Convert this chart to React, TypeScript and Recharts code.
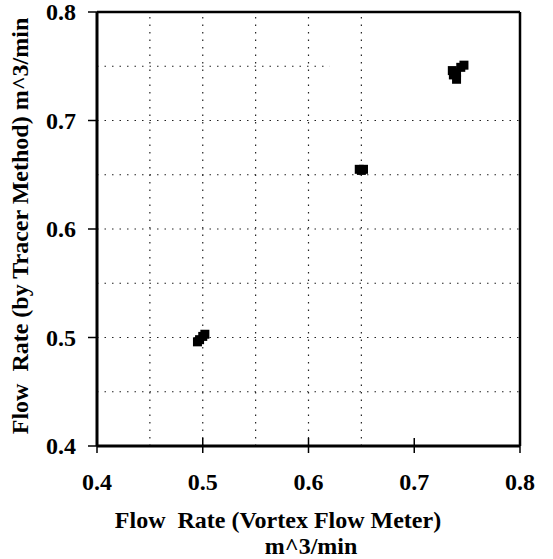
import React from "react";
import {
  ScatterChart,
  Scatter,
  XAxis,
  YAxis,
  ReferenceLine,
} from "recharts";

// flow rate readings, m^3/min
const vortexFlow = [
  0.495, 0.497, 0.5, 0.502,
  0.648, 0.65, 0.652,
  0.747, 0.744, 0.736, 0.74, 0.737, 0.74,
];
const tracerFlow = [
  0.496, 0.498, 0.501, 0.503,
  0.655, 0.654, 0.655,
  0.751, 0.749, 0.746, 0.744, 0.742, 0.738,
];

const axisTicks = [0.4, 0.5, 0.6, 0.7, 0.8];
const xGridLines = [0.45, 0.5, 0.55, 0.6, 0.65];
const yGridLines = [0.45, 0.5, 0.55, 0.6, 0.65, 0.7];

const points = vortexFlow.map((x, i) => ({ x, y: tracerFlow[i] }));

const FONT = "'Liberation Serif', 'Times New Roman', serif";
const FS = 24;

// recharts hands ticks an offset of tickSize + tickMargin (6 + 2)
const OFF = 8;

const XTick = (props: any) => {
  const { x, y, payload } = props;
  const ay = y - OFF;
  return (
    <g>
      <line x1={x} x2={x} y1={ay - 8} y2={ay + 7} stroke="#000" strokeWidth={1.5} />
      <text
        x={x}
        y={ay + 44}
        textAnchor="middle"
        fontFamily={FONT}
        fontWeight="bold"
        fontSize={FS}
        fill="#000"
      >
        {payload.value.toFixed(1)}
      </text>
    </g>
  );
};

const YTick = (props: any) => {
  const { x, y, payload } = props;
  const ax = x + OFF;
  return (
    <g>
      <line x1={ax - 9} x2={ax} y1={y} y2={y} stroke="#000" strokeWidth={1.5} />
      <text
        x={76}
        y={y}
        dy="0.35em"
        textAnchor="end"
        fontFamily={FONT}
        fontWeight="bold"
        fontSize={FS}
        fill="#000"
      >
        {payload.value.toFixed(1)}
      </text>
    </g>
  );
};

const XTitle = (props: any) => {
  const { viewBox } = props;
  const top = viewBox.y;
  return (
    <g fontFamily={FONT} fontWeight="bold" fontSize={FS} fill="#000">
      <text x={278} y={top + 82} textAnchor="middle" style={{ whiteSpace: "pre" }}>
        {"Flow  Rate (Vortex Flow Meter)"}
      </text>
      <text x={311} y={top + 108} textAnchor="middle">
        m^3/min
      </text>
    </g>
  );
};

const YTitle = () => (
  <text
    x={28}
    y={226}
    transform="rotate(-90, 28, 226)"
    textAnchor="middle"
    fontFamily={FONT}
    fontWeight="bold"
    fontSize={FS}
    fill="#000"
    style={{ whiteSpace: "pre" }}
  >
    {"Flow  Rate (by Tracer Method) m^3/min"}
  </text>
);

const SquareDot = (props: any) => {
  const { cx, cy } = props;
  return <rect x={cx - 4.5} y={cy - 4.5} width={9} height={9} fill="#000" />;
};

export default function App() {
  return (
    <div style={{ position: "absolute", left: 0, top: 0, background: "#fff" }}>
      <ScatterChart
        width={553}
        height={559}
        margin={{ top: 12, right: 33, left: 0, bottom: 0 }}
      >
        <XAxis
          type="number"
          dataKey="x"
          domain={[0.4, 0.8]}
          ticks={axisTicks}
          height={113}
          tickLine={false}
          axisLine={{ stroke: "#000", strokeWidth: 3 }}
          tick={<XTick />}
          label={<XTitle />}
        />
        <YAxis
          type="number"
          dataKey="y"
          domain={[0.4, 0.8]}
          ticks={axisTicks}
          width={97}
          tickLine={false}
          axisLine={{ stroke: "#000", strokeWidth: 3 }}
          tick={<YTick />}
          label={<YTitle />}
        />
        {xGridLines.map((v) => (
          <ReferenceLine
            key={"gx" + v}
            x={v}
            stroke="#222"
            strokeWidth={1.2}
            strokeDasharray="1.5 6"
          />
        ))}
        {yGridLines.map((v) => (
          <ReferenceLine
            key={"gy" + v}
            y={v}
            stroke="#222"
            strokeWidth={1.2}
            strokeDasharray="1.5 6"
          />
        ))}
        <ReferenceLine
          segment={[
            { x: 0.4, y: 0.75 },
            { x: 0.62, y: 0.75 },
          ]}
          stroke="#222"
          strokeWidth={1.2}
          strokeDasharray="1.5 6"
        />
        <ReferenceLine y={0.8} stroke="#000" strokeWidth={2.5} />
        <ReferenceLine x={0.8} stroke="#000" strokeWidth={2.5} />
        <Scatter
          data={points}
          shape={<SquareDot />}
          isAnimationActive={false}
        />
      </ScatterChart>
    </div>
  );
}
